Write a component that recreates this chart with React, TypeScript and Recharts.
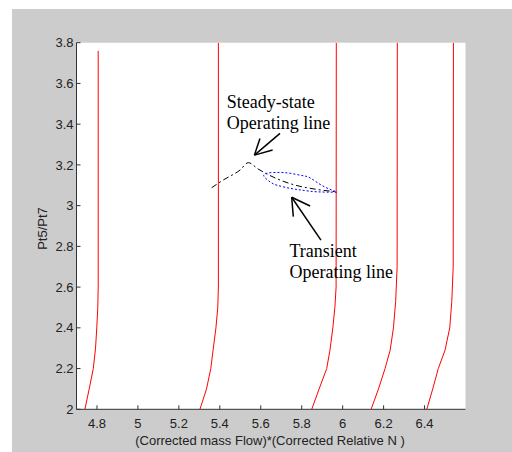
import { CartesianGrid, Line, LineChart, ReferenceDot, ReferenceLine, XAxis, YAxis } from 'recharts';

// constant speed lines: [corrected flow * relative N, Pt5/Pt7]
const speedLine1 = [
	[4.741, 2.0], [4.762, 2.1], [4.782, 2.2], [4.793, 2.3], [4.799, 2.4], [4.804, 2.5], [4.806, 2.6], [4.806, 3.76],
];
const speedLine2 = [
	[5.303, 2.0], [5.335, 2.1], [5.356, 2.2], [5.367, 2.29], [5.381, 2.4], [5.39, 2.5], [5.393, 2.6], [5.393, 3.8],
];
const speedLine3 = [
	[5.849, 2.0], [5.885, 2.1], [5.922, 2.2], [5.938, 2.29], [5.952, 2.4], [5.962, 2.5], [5.968, 2.6], [5.969, 3.8],
];
const speedLine4 = [
	[6.139, 2.0], [6.175, 2.1], [6.207, 2.2], [6.232, 2.29], [6.248, 2.4], [6.259, 2.53], [6.266, 2.7], [6.267, 3.8],
];
const speedLine5 = [
	[6.411, 2.0], [6.44, 2.1], [6.467, 2.2], [6.5, 2.29], [6.523, 2.4], [6.533, 2.53], [6.54, 2.7], [6.541, 3.8],
];

const steadyState = [
	[5.36, 3.088], [5.417, 3.126], [5.499, 3.175], [5.539, 3.211], [5.587, 3.18], [5.67, 3.136],
	[5.767, 3.101], [5.865, 3.081], [5.971, 3.068],
];

const transient = [
	[5.971, 3.066], [5.873, 3.068], [5.8, 3.076], [5.743, 3.085], [5.68, 3.1], [5.645, 3.117], [5.615, 3.145],
	[5.635, 3.16], [5.69, 3.163], [5.743, 3.159], [5.8, 3.148], [5.841, 3.136], [5.904, 3.096], [5.971, 3.068],
];

const xTicks = [4.8, 5, 5.2, 5.4, 5.6, 5.8, 6, 6.2, 6.4];
const yTicks = [2, 2.2, 2.4, 2.6, 2.8, 3, 3.2, 3.4, 3.6, 3.8];

// annotations (data coords)
const arrows = [
	{ tail: [5.694, 3.355], tip: [5.569, 3.248], wings: [[5.596, 3.33], [5.658, 3.273]] },
	{ tail: [5.894, 2.831], tip: [5.751, 3.041], wings: [[5.759, 2.946], [5.841, 2.998]] },
];
const notes = [
	{ at: [5.434, 3.478], lines: ['Steady-state', 'Operating line'] },
	{ at: [5.74, 2.749], lines: ['Transient', 'Operating line'] },
];

const sans = '"Liberation Sans", Arial, sans-serif';
const serif = '"Liberation Serif", "Times New Roman", serif';

const pts = (arr: number[][]) => arr.map(([x, y]) => ({ x, y }));

const redLines = [speedLine1, speedLine2, speedLine3, speedLine4, speedLine5];

export default function App() {
	return (
		<div style={{ position: 'absolute', left: 0, top: 0, width: 512, height: 452, background: '#fff' }}>
			<div style={{ position: 'absolute', left: 12, top: 9 }}>
				<LineChart
					width={500}
					height={443}
					margin={{ top: 33.7, right: 46.5, bottom: 2.7, left: 4.5 }}
					style={{ background: '#cccccc' }}
				>
					<CartesianGrid horizontal={false} vertical={false} fill='#fff' />
					<XAxis
						dataKey='x'
						type='number'
						domain={[4.7, 6.6]}
						ticks={xTicks}
						interval={0}
						allowDataOverflow
						height={40}
						stroke='#333'
						tickSize={-4}
						tickMargin={13}
						tick={{ fill: '#222', fontSize: 13, fontFamily: sans }}
						label={{
							content: (p: any) => (
								<text
									x={p.viewBox.x + p.viewBox.width / 2 - 1}
									y={p.viewBox.y + 35.2}
									textAnchor='middle'
									fill='#222'
									fontSize={13}
									fontFamily={sans}
								>
									(Corrected mass Flow)*(Corrected Relative N )
								</text>
							),
						}}
					/>
					<XAxis
						xAxisId='top'
						orientation='top'
						type='number'
						domain={[4.7, 6.6]}
						ticks={xTicks}
						interval={0}
						allowDataOverflow
						height={0}
						stroke='#333'
						tickSize={-4}
						tick={() => null}
					/>
					<YAxis
						type='number'
						domain={[2, 3.8]}
						ticks={yTicks}
						interval={0}
						allowDataOverflow
						width={60}
						stroke='#333'
						tickSize={-4}
						tickMargin={7}
						tick={{ fill: '#222', fontSize: 13, fontFamily: sans }}
						label={{
							content: (p: any) => {
								const cx = p.viewBox.x + 30.5;
								const cy = p.viewBox.y + p.viewBox.height / 2 + 2.5;
								return (
									<text
										x={cx}
										y={cy}
										transform={`rotate(-90, ${cx}, ${cy})`}
										textAnchor='middle'
										fill='#222'
										fontSize={13}
										fontFamily={sans}
									>
										Pt5/Pt7
									</text>
								);
							},
						}}
					/>
					<YAxis
						yAxisId='right'
						orientation='right'
						type='number'
						domain={[2, 3.8]}
						ticks={yTicks}
						interval={0}
						allowDataOverflow
						width={0}
						stroke='#333'
						tickSize={-4}
						tick={() => null}
					/>
					{redLines.map((l, i) => (
						<Line
							key={i}
							data={pts(l)}
							dataKey='y'
							type='linear'
							stroke='#ff0000'
							strokeWidth={1}
							dot={false}
							activeDot={false}
							isAnimationActive={false}
						/>
					))}
					<Line
						data={pts(steadyState)}
						dataKey='y'
						type='monotone'
						stroke='#000'
						strokeWidth={1}
						strokeDasharray='6 3 2 3'
						dot={false}
						activeDot={false}
						isAnimationActive={false}
					/>
					<Line
						data={pts(transient)}
						dataKey='y'
						type='natural'
						stroke='#0000ff'
						strokeWidth={1}
						strokeDasharray='2 2'
						dot={false}
						activeDot={false}
						isAnimationActive={false}
					/>
					{arrows.map((a, i) => (
						<g key={'a' + i}>
							<ReferenceLine
								segment={[{ x: a.tail[0], y: a.tail[1] }, { x: a.tip[0], y: a.tip[1] }]}
								stroke='#000'
								strokeWidth={1.5}
								ifOverflow='visible'
							/>
							{a.wings.map((w, j) => (
								<ReferenceLine
									key={j}
									segment={[{ x: w[0], y: w[1] }, { x: a.tip[0], y: a.tip[1] }]}
									stroke='#000'
									strokeWidth={1.5}
									ifOverflow='visible'
								/>
							))}
						</g>
					))}
					{notes.map((n, i) => (
						<ReferenceDot
							key={'n' + i}
							x={n.at[0]}
							y={n.at[1]}
							r={0}
							stroke='none'
							fill='none'
							ifOverflow='visible'
							label={{
								content: (p: any) => (
									<text x={p.viewBox.x} y={p.viewBox.y} fill='#000' fontSize={18} fontFamily={serif}>
										{n.lines.map((t, k) => (
											<tspan key={k} x={p.viewBox.x} dy={k === 0 ? 0 : 21}>
												{t}
											</tspan>
										))}
									</text>
								),
							}}
						/>
					))}
				</LineChart>
			</div>
		</div>
	);
}
